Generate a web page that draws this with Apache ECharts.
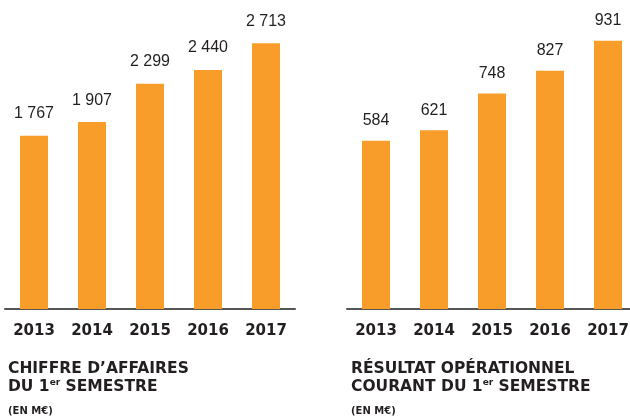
<!DOCTYPE html>
<html>
<head>
    <meta charset="utf-8">
    <title>Chiffre d'affaires / Résultat opérationnel</title>
    <script src="https://cdn.jsdelivr.net/npm/echarts@6/dist/echarts.min.js"></script>
    <style>
        html, body { margin: 0; padding: 0; background: #fff; }
        #main { width: 630px; height: 418px; }
    </style>
</head>
<body>
<div id="main"></div>
<script>
    // données
    var years = ['2013', '2014', '2015', '2016', '2017'];
    var chiffreAffaires = [1767, 1907, 2299, 2440, 2713];
    var resultatOp = [584, 621, 748, 827, 931];

    var orange = '#F99D2A';
    var ink = '#231f20';

    // séparateur de milliers avec espace
    function fmt(p) {
        return String(p.value).replace(/\B(?=(\d{3})+(?!\d))/g, ' ');
    }

    function titleRich() {
        return {
            b: { fontFamily: 'DejaVu Sans', fontWeight: 'bold', fontSize: 15.5, color: ink, lineHeight: 18 },
            // "er" en exposant : le padding bas remonte le texte
            s: { fontFamily: 'DejaVu Sans', fontWeight: 'bold', fontSize: 9, color: ink, padding: [0, 0, 8, 0] }
        };
    }

    var myChart = echarts.init(document.getElementById('main'));
    myChart.setOption({
        animation: false,
        title: [{
            left: 4, top: 360,
            text: '{b|CHIFFRE D’AFFAIRES}\n{b|DU 1}{s|er}{b| SEMESTRE}',
            textStyle: { rich: titleRich() },
            subtext: '(EN M€)',
            subtextStyle: { fontFamily: 'DejaVu Sans', fontWeight: 'bold', fontSize: 10, color: ink, lineHeight: 12 },
            itemGap: 11,
            padding: [0, 4]
        }, {
            left: 347, top: 360,
            text: '{b|RÉSULTAT OPÉRATIONNEL}\n{b|COURANT DU 1}{s|er}{b| SEMESTRE}',
            textStyle: { rich: titleRich() },
            subtext: '(EN M€)',
            subtextStyle: { fontFamily: 'DejaVu Sans', fontWeight: 'bold', fontSize: 10, color: ink, lineHeight: 12 },
            itemGap: 11,
            padding: [0, 4]
        }],
        grid: [
            { left: 5, width: 290, top: 15, bottom: 109, outerBoundsMode: 'none' },
            { left: 347, width: 290, top: 21, bottom: 109, outerBoundsMode: 'none' }
        ],
        xAxis: [0, 1].map(function (i) {
            return {
                type: 'category',
                gridIndex: i,
                data: years,
                axisLine: { lineStyle: { color: '#555', width: 2 } },
                axisTick: { show: false },
                axisLabel: {
                    margin: 15,
                    fontFamily: 'DejaVu Sans',
                    fontWeight: 'bold',
                    fontSize: 15,
                    color: ink,
                    hideOverlap: false
                }
            };
        }),
        yAxis: [
            { type: 'value', gridIndex: 0, min: 0, max: 3000, show: false },
            { type: 'value', gridIndex: 1, min: 0, max: 1000, show: false }
        ],
        series: [{
            type: 'bar',
            xAxisIndex: 0,
            yAxisIndex: 0,
            data: chiffreAffaires,
            barWidth: 28,
            itemStyle: { color: orange },
            label: {
                show: true, position: 'top', distance: 14,
                formatter: fmt,
                fontFamily: 'Liberation Sans', fontSize: 16, color: ink
            }
        }, {
            type: 'bar',
            xAxisIndex: 1,
            yAxisIndex: 1,
            data: resultatOp,
            barWidth: 28,
            itemStyle: { color: orange },
            label: {
                show: true, position: 'top', distance: 12,
                formatter: fmt,
                fontFamily: 'Liberation Sans', fontSize: 16, color: ink
            }
        }]
    });
</script>
</body>
</html>
